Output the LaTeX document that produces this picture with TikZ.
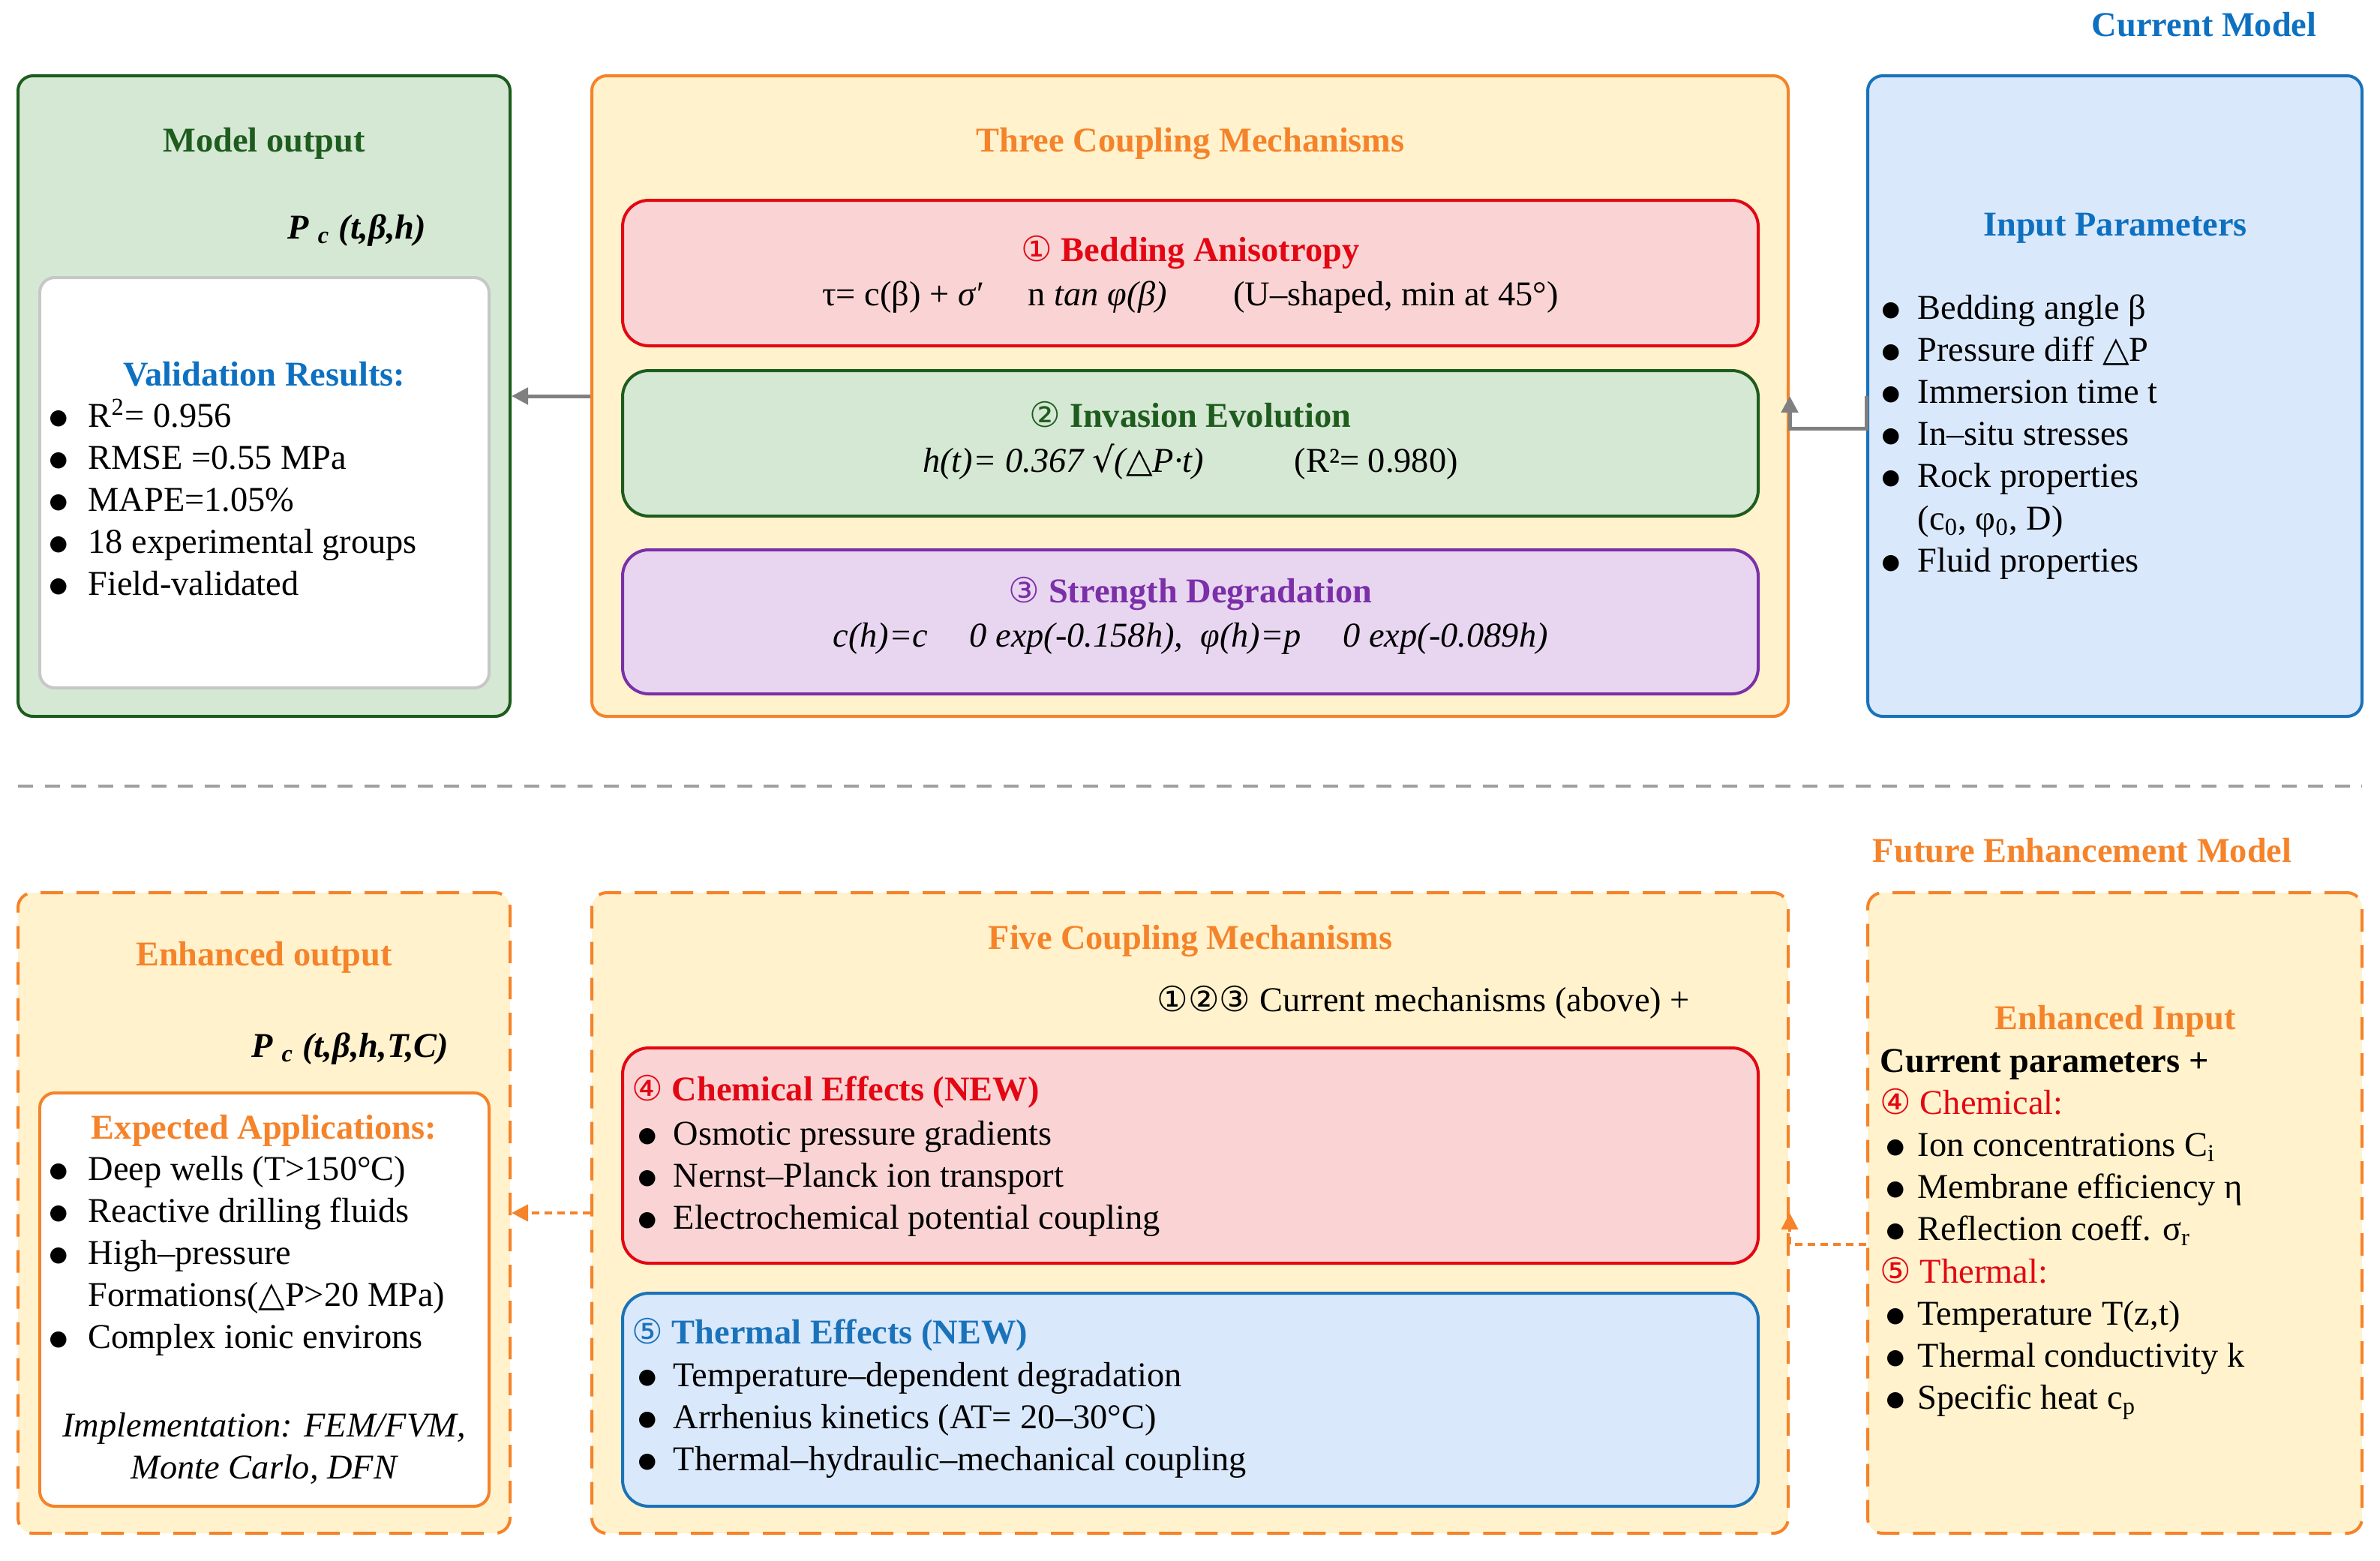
\documentclass[tikz,border=0pt]{standalone}
\usepackage{fontspec}
\setmainfont{Liberation Serif}
\newfontfamily\dvfont{DejaVu Sans}
\usepackage{tikz}
\usetikzlibrary{%
   arrows.meta,%
   calc,%
   positioning}
\definecolor{gfill}{HTML}{D5E8D4}
\definecolor{gdraw}{HTML}{1E5C1E}
\definecolor{ofill}{HTML}{FFF2CC}
\definecolor{odraw}{HTML}{F5832A}
\definecolor{bfill}{HTML}{DAE8FC}
\definecolor{bdraw}{HTML}{1A73BA}
\definecolor{btext}{HTML}{0E70C0}
\definecolor{rfill}{HTML}{FAD4D4}
\definecolor{rdraw}{HTML}{E30613}
\definecolor{pfill}{HTML}{E8D6F0}
\definecolor{pdraw}{HTML}{7B2FA8}
\definecolor{agray}{HTML}{808080}
\newcommand{\cn}[1]{{\dvfont\mdseries #1}}
\newcommand{\bul}[1]{\makebox[#1][l]{\raisebox{0.04cm}{\dvfont\fontsize{8}{8}\selectfont ●}}}
\def\pcsub{\textsubscript{c}}

\begin{document}
\begin{tikzpicture}
[font={\fontsize{13.2}{16}\selectfont},
 obox/.style={draw, rectangle, rounded corners=2mm, line width=0.04cm, minimum width=6.56cm, minimum height=8.54cm},
 mbox/.style={draw, rectangle, rounded corners=2mm, line width=0.04cm, minimum width=15.95cm, minimum height=8.54cm},
 fbox/.style={obox, draw=odraw, fill=ofill, dash pattern=on 0.3cm off 0.18cm},
 ibox/.style={draw, rectangle, rounded corners=3.5mm, line width=0.04cm, minimum width=15.14cm},
 wbox/.style={draw, rectangle, rounded corners=2mm, line width=0.04cm, fill=white, minimum width=5.99cm},
 txt/.style={inner sep=0, anchor=base},
 lst/.style={inner sep=0, anchor=base west},
 pfeil/.style={-{Triangle[length=0.22cm, width=0.22cm]}, line width=0.05cm, draw=agray},
 dpfeil/.style={-{Triangle[length=0.22cm, width=0.22cm]}, line width=0.04cm, draw=odraw, dash pattern=on 0.1cm off 0.07cm},
 sep/.style={draw=agray!75, line width=0.04cm, dash pattern=on 0.2cm off 0.155cm}]
\useasboundingbox (0,0) rectangle (31.73,-20.80);
% current model
\node (outA) [obox, draw=gdraw, fill=gfill] at (3.52,-5.28) {};
\node (mech) [mbox, draw=odraw, fill=ofill] at (15.865,-5.28) {};
\node (inp)  [obox, draw=bdraw, fill=bfill, minimum width=6.59cm] at (28.195,-5.28) {};
\node (wA)   [wbox, draw=black!22, minimum height=5.47cm] at (3.525,-6.435) {};
\node (mRed) [ibox, draw=rdraw, fill=rfill, minimum height=1.94cm] at (15.87,-3.64) {};
\node (mGrn) [ibox, draw=gdraw, fill=gfill, minimum height=1.94cm, below=0.29cm of mRed] {};
\node (mPur) [ibox, draw=pdraw, fill=pfill, minimum height=1.92cm, below=0.41cm of mGrn] {};
\node (curM) [txt, anchor=base east, text=btext, font={\fontsize{13.2}{16}\selectfont\bfseries}] at (30.89,-0.48) {Current Model};
\node (tOutA) [txt, text=gdraw, font={\fontsize{13.2}{16}\selectfont\bfseries}] at (3.52,-2.02) {Model output};
\node (pcA) [txt] at (4.76,-3.18) {\bfseries\itshape P \pcsub\ (t,β,h)};
\node (tVal) [txt, text=btext, font={\fontsize{13.2}{16}\selectfont\bfseries}] at (3.52,-5.14) {Validation Results:};
\node (lstA) [lst] at (0.65,-5.69) {\parbox[t]{5.5cm}{\bul{0.52cm}R\textsuperscript{2}= 0.956\\ \bul{0.52cm}RMSE =0.55 MPa\\ \bul{0.52cm}MAPE=1.05\%\\ \bul{0.52cm}18 experimental groups\\ \bul{0.52cm}Field-validated}};
\node (tThree) [txt, text=odraw, font={\fontsize{13.2}{16}\selectfont\bfseries}] at (15.87,-2.02) {Three Coupling Mechanisms};
\node (t1) [txt, text=rdraw, font={\fontsize{13.2}{16}\selectfont\bfseries}] at (15.87,-3.48) {\cn{①} Bedding Anisotropy};
\node (f1) [txt] at (15.87,-4.07) {τ= c(β) + \textit{σ′}\hspace{1.3em}n \textit{tan φ(β)}\hspace{1.9em}(U–shaped, min at 45°)};
\node (t2) [txt, text=gdraw, font={\fontsize{13.2}{16}\selectfont\bfseries}] at (15.87,-5.69) {\cn{②} Invasion Evolution};
\node (f2) [txt] at (15.87,-6.29) {\textit{h(t)= 0.367 \cn{√}(\cn{△}P·t)}\hspace{2.6em}(R²= 0.980)};
\node (t3) [txt, text=pdraw, font={\fontsize{13.2}{16}\selectfont\bfseries}] at (15.87,-8.03) {\cn{③} Strength Degradation};
\node (f3) [txt] at (15.87,-8.62) {\textit{c(h)=c\hspace{1.2em}0 exp(-0.158h),\hspace{0.5em}φ(h)=p\hspace{1.2em}0 exp(-0.089h)}};
\node (tInp) [txt, text=btext, font={\fontsize{13.2}{16}\selectfont\bfseries}] at (28.2,-3.14) {Input Parameters};
\node (lstInp) [lst] at (25.08,-4.25) {\parbox[t]{5.8cm}{\bul{0.48cm}Bedding angle β\\ \bul{0.48cm}Pressure diff \cn{△}P\\ \bul{0.48cm}Immersion time t\\ \bul{0.48cm}In–situ stresses\\ \bul{0.48cm}Rock properties\\ \hspace*{0.48cm}(c\textsubscript{0}, φ\textsubscript{0}, D)\\ \bul{0.48cm}Fluid properties}};
% separator
\coordinate (sepL) at (0.24,-10.48);
\coordinate (sepR) at (31.49,-10.48);
\draw[sep] (sepL) -- (sepR);
% future enhancement model
\node (outB) [fbox] at (3.52,-16.17) {};
\node (fmech) [fbox, minimum width=15.95cm] at (15.865,-16.17) {};
\node (inB) [fbox, minimum width=6.59cm] at (28.195,-16.17) {};
\node (wB) [wbox, draw=odraw, minimum height=5.51cm] at (3.525,-17.325) {};
\node (fRed) [ibox, draw=rdraw, fill=rfill, minimum height=2.87cm] at (15.87,-15.405) {};
\node (fBlu) [ibox, draw=bdraw, fill=bfill, minimum height=2.84cm, below=0.36cm of fRed] {};
\node (futM) [txt, anchor=base east, text=odraw, font={\fontsize{13.2}{16}\selectfont\bfseries}] at (30.56,-11.49) {Future Enhancement Model};
\node (tOutB) [txt, text=odraw, font={\fontsize{13.2}{16}\selectfont\bfseries}] at (3.52,-12.87) {Enhanced output};
\node (pcB) [txt] at (4.67,-14.09) {\bfseries\itshape P \pcsub\ (t,β,h,T,C)};
\node (tApp) [txt, text=odraw, font={\fontsize{13.2}{16}\selectfont\bfseries}] at (3.52,-15.18) {Expected Applications:};
\node (lstB) [lst] at (0.65,-15.73) {\parbox[t]{5.8cm}{\bul{0.52cm}Deep wells (T>150°C)\\ \bul{0.52cm}Reactive drilling fluids\\ \bul{0.52cm}High–pressure\\ \hspace*{0.52cm}Formations(\cn{△}P>20 MPa)\\ \bul{0.52cm}Complex ionic environs}};
\node (impl) [txt] at (3.52,-19.15) {\parbox[t]{5.8cm}{\centering\itshape Implementation: FEM/FVM,\\ Monte Carlo, DFN}};
\node (tFive) [txt, text=odraw, font={\fontsize{13.2}{16}\selectfont\bfseries}] at (15.87,-12.65) {Five Coupling Mechanisms};
\node (cur123) [lst] at (15.42,-13.48) {\cn{①②③} Current mechanisms (above) +};
\node (tChem) [lst, text=rdraw, font={\fontsize{13.2}{16}\selectfont\bfseries}] at (8.42,-14.67) {\cn{④} Chemical Effects (NEW)};
\node (lstChem) [lst] at (8.50,-15.26) {\parbox[t]{12cm}{\bul{0.47cm}Osmotic pressure gradients\\ \bul{0.47cm}Nernst–Planck ion transport\\ \bul{0.47cm}Electrochemical potential coupling}};
\node (tTherm) [lst, text=bdraw, font={\fontsize{13.2}{16}\selectfont\bfseries}] at (8.42,-17.91) {\cn{⑤} Thermal Effects (NEW)};
\node (lstTherm) [lst] at (8.50,-18.48) {\parbox[t]{12cm}{\bul{0.47cm}Temperature–dependent degradation\\ \bul{0.47cm}Arrhenius kinetics (AT= 20–30°C)\\ \bul{0.47cm}Thermal–hydraulic–mechanical coupling}};
\node (tEnh) [txt, text=odraw, font={\fontsize{13.2}{16}\selectfont\bfseries}] at (28.2,-13.72) {Enhanced Input};
\node (lstEnh) [lst] at (25.06,-14.29) {\parbox[t]{6cm}{\textbf{Current parameters +}\\ {\color{rdraw}\cn{④} Chemical:}\\ \hspace*{0.08cm}\bul{0.42cm}Ion concentrations C\textsubscript{i}\\ \hspace*{0.08cm}\bul{0.42cm}Membrane efficiency η\\ \hspace*{0.08cm}\bul{0.42cm}Reflection coeff. σ\textsubscript{r}\\ {\color{rdraw}\cn{⑤} Thermal:}\\ \hspace*{0.08cm}\bul{0.42cm}Temperature T(z,t)\\ \hspace*{0.08cm}\bul{0.42cm}Thermal conductivity k\\ \hspace*{0.08cm}\bul{0.42cm}Specific heat c\textsubscript{p}}};
% connectors
\draw[pfeil] (mech) -- (outA);
\draw[pfeil] (inp.west) -- ++(0,-0.43) -| (mech.east);
\coordinate (inBlow) at ($(inB.west)+(0,-0.42)$);
\draw[dpfeil] (fmech) -- (outB);
\draw[dpfeil] (inBlow) -| (fmech.east);
\end{tikzpicture}
\end{document}
